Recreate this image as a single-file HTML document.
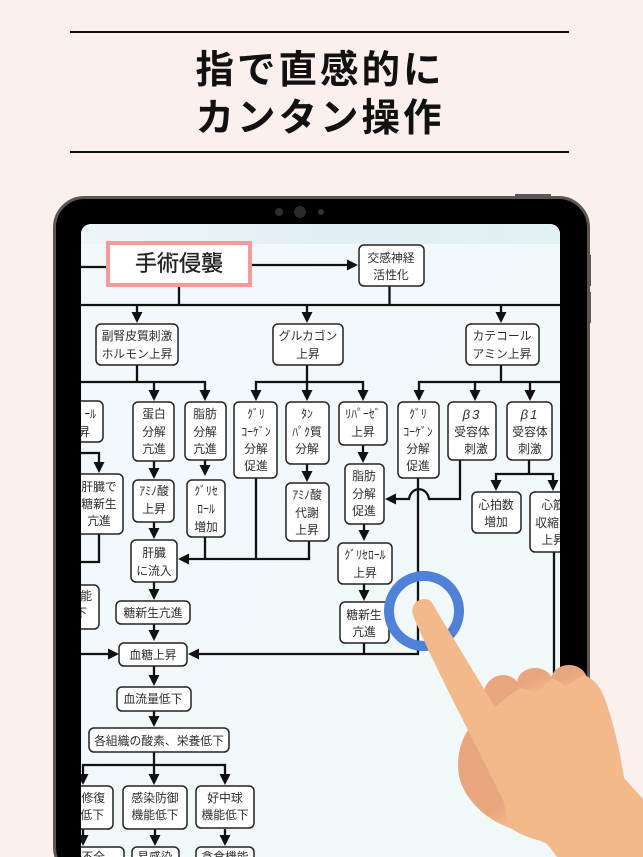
<!DOCTYPE html>
<html lang="ja"><head><meta charset="utf-8"><style>
html,body{margin:0;padding:0;background:#fcf0ef;width:643px;height:857px;overflow:hidden}
svg{display:block}
.t{font-family:"Liberation Sans","Noto Sans CJK JP",sans-serif;font-size:11.8px;fill:#2e2e2e;text-anchor:middle}
.e{text-anchor:end}
.b rect{fill:#fff;stroke:#222;stroke-width:1.5}
.l path{fill:none;stroke:#111;stroke-width:2.3}
.h{font-family:"Liberation Sans","Noto Sans CJK JP",sans-serif;font-size:38.5px;font-weight:700;fill:#111;text-anchor:middle;letter-spacing:3px}
</style></head><body>
<svg width="643" height="857" viewBox="0 0 643 857" xmlns="http://www.w3.org/2000/svg">
<defs>
<path id="d" d="M-5.5-11H5.5L0 0Z" fill="#111"/>
<path id="r" d="M-11-5.5V5.500L0 0Z" fill="#111"/>
<path id="w" d="M11-5.5V5.500L0 0Z" fill="#111"/>
<clipPath id="s"><rect x="81" y="224" width="479" height="640" rx="10"/></clipPath>
<linearGradient id="bg" x1="0" y1="0" x2="1" y2="1"><stop offset="0" stop-color="#f3f8fb"/><stop offset="1" stop-color="#f0f8fa"/></linearGradient>
<linearGradient id="top" x1="0" y1="0" x2="1" y2="0"><stop offset="0" stop-color="#eef5f8"/><stop offset=".5" stop-color="#e2eff6"/><stop offset="1" stop-color="#e3f1f2"/></linearGradient>
<linearGradient id="k" x1="0" y1="0" x2="0.6" y2="1"><stop offset=".45" stop-color="#e8a57e"/><stop offset="1" stop-color="#f3b98b"/></linearGradient>
<linearGradient id="th" gradientUnits="userSpaceOnUse" x1="478" y1="775" x2="515" y2="822"><stop offset=".6" stop-color="#e8a57e"/><stop offset="1" stop-color="#f3b98b"/></linearGradient>
</defs>

<rect x="70" y="31" width="499" height="2" fill="#111"/>
<rect x="70" y="151" width="499" height="2" fill="#111"/>
<text class="h" x="320" y="83">指で直感的に</text>
<text class="h" x="320" y="131">カンタン操作</text>

<rect x="515" y="194" width="36" height="4" fill="#5a5654"/>
<rect x="588" y="255" width="3" height="31" fill="#5a5654"/>
<rect x="588" y="292" width="3" height="31" fill="#5a5654"/>
<rect x="54.500" y="197.500" width="534" height="680" rx="30" fill="#000" stroke="#5a5654" stroke-width="3"/>
<circle cx="279" cy="212" r="4" fill="#2e2e2e"/>
<circle cx="300" cy="212" r="6" fill="#2a2a2a"/>
<circle cx="321" cy="212" r="3" fill="#333"/>

<g clip-path="url(#s)">
<rect x="81" y="224" width="479" height="640" fill="url(#bg)"/>
<rect x="81" y="224" width="479" height="20" fill="url(#top)"/>

<g class="l">
<path d="M81 267H106M252 265H350M179 287V305M389.500 286V305M81 305H560"/>
<path d="M137 305V314M307 305V314M501 305V314"/>
<path d="M137 365V382M81 382H205V392M154 382V392"/>
<path d="M256 392V382H363V392M307 365V392"/>
<path d="M501 365V382M419 392V382H560M475 382V392M530 382V392"/>
<path d="M81 453H99V464M99 534V562H81"/>
<path d="M154 461V470M205 460V467M307 464V472M154 522V530"/>
<path d="M205 537V559M256 478V559M309 541V559H186"/>
<path d="M154 582V592M154 624V632M154 666V677M154 711V719"/>
<path d="M81 654H108M199 654H418V478M364 643V654"/>
<path d="M363 445V455M364 524V532M364 584V592"/>
<path d="M396 499H409C411 486 427 486 429 499H460V460"/>
<path d="M529 460V474M496 482V474H553V482M554 552V700"/>
<path d="M154 752V776M83 776V765H225V776"/>
<path d="M83 829V836M155 829V836M225 829V836"/>
</g>
<use href="#r" x="358" y="265"/>
<use href="#d" x="137" y="323"/><use href="#d" x="307" y="323"/><use href="#d" x="501" y="323"/>
<use href="#d" x="154" y="401"/><use href="#d" x="205" y="401"/><use href="#d" x="256" y="401"/><use href="#d" x="307" y="401"/><use href="#d" x="363" y="401"/><use href="#d" x="419" y="401"/><use href="#d" x="475" y="401"/><use href="#d" x="530" y="401"/>
<use href="#d" x="99" y="473"/><use href="#d" x="154" y="479"/><use href="#d" x="205" y="476"/><use href="#d" x="307" y="482"/>
<use href="#d" x="154" y="539"/><use href="#d" x="154" y="600"/><use href="#d" x="154" y="641"/><use href="#d" x="154" y="686"/><use href="#d" x="154" y="727"/>
<use href="#w" x="178" y="559"/><use href="#r" x="119" y="654"/><use href="#w" x="188" y="654"/>
<use href="#d" x="363" y="463"/><use href="#d" x="364" y="541"/><use href="#d" x="364" y="601"/><use href="#w" x="385" y="499"/>
<use href="#d" x="496" y="491"/><use href="#d" x="553" y="491"/>
<use href="#d" x="83" y="785"/><use href="#d" x="154" y="785"/><use href="#d" x="225" y="785"/>
<use href="#d" x="83" y="846"/><use href="#d" x="155" y="846"/><use href="#d" x="225" y="846"/>

<rect x="108" y="243" width="142" height="42" fill="#fff" stroke="#f59a98" stroke-width="4"/>
<g class="b">
<rect x="359" y="245" width="65" height="41" rx="5"/>
<rect x="96" y="324" width="82" height="41" rx="5"/>
<rect x="273" y="324" width="70" height="41" rx="5"/>
<rect x="466" y="324" width="73" height="41" rx="5"/>
<rect x="60" y="401" width="43" height="41" rx="5"/>
<rect x="133" y="402" width="41" height="59" rx="5"/>
<rect x="185" y="402" width="41" height="58" rx="5"/>
<rect x="234" y="402" width="43" height="76" rx="5"/>
<rect x="286" y="402" width="43" height="62" rx="5"/>
<rect x="339" y="402" width="48" height="43" rx="5"/>
<rect x="398" y="402" width="41" height="76" rx="5"/>
<rect x="448" y="402" width="48" height="58" rx="5"/>
<rect x="507" y="402" width="45" height="58" rx="5"/>
<rect x="60" y="474" width="63" height="60" rx="5"/>
<rect x="133" y="480" width="41" height="42" rx="5"/>
<rect x="187" y="480" width="38" height="57" rx="5"/>
<rect x="286" y="483" width="43" height="58" rx="5"/>
<rect x="345" y="464" width="39" height="60" rx="5"/>
<rect x="472" y="492" width="49" height="41" rx="5"/>
<rect x="530" y="492" width="60" height="60" rx="5"/>
<rect x="60" y="585" width="39" height="44" rx="5"/>
<rect x="131" y="540" width="46" height="42" rx="5"/>
<rect x="338" y="543" width="54" height="41" rx="5"/>
<rect x="340" y="602" width="49" height="41" rx="5"/>
<rect x="116" y="601" width="74" height="23" rx="5"/>
<rect x="119" y="643" width="68" height="23" rx="5"/>
<rect x="117" y="687" width="74" height="24" rx="5"/>
<rect x="89" y="728" width="140" height="24" rx="5"/>
<rect x="60" y="786" width="53" height="43" rx="5"/>
<rect x="123" y="786" width="64" height="43" rx="5"/>
<rect x="196" y="786" width="58" height="42" rx="5"/>
<rect x="60" y="847" width="64" height="30" rx="5"/>
<rect x="132" y="847" width="47" height="30" rx="5"/>
<rect x="196" y="847" width="58" height="30" rx="5"/>
</g>

<g class="t">
<text class="t" x="179" y="271" style="font-size:22px;fill:#222;stroke:#222;stroke-width:.35">手術侵襲</text>
<text class="t" x="391" y="262">交感神経</text><text class="t" x="391" y="279">活性化</text>
<text class="t" x="137" y="340">副腎皮質刺激</text><text class="t" x="137" y="358">ホルモン上昇</text>
<text class="t" x="308" y="340">グルカゴン</text><text class="t" x="308" y="358">上昇</text>
<text class="t" x="502" y="340">カテコール</text><text class="t" x="502" y="358">アミン上昇</text>
<text class="t e" x="96" y="418">ｺﾙﾁｿﾞｰﾙ</text><text class="t e" x="90" y="436">上昇</text>
<text class="t" x="154" y="418">蛋白</text><text class="t" x="154" y="436">分解</text><text class="t" x="154" y="453">亢進</text>
<text class="t" x="205" y="418">脂肪</text><text class="t" x="205" y="436">分解</text><text class="t" x="205" y="453">亢進</text>
<text class="t" x="256" y="418">ｸﾞﾘ</text><text class="t" x="256" y="436">ｺｰｹﾞﾝ</text><text class="t" x="256" y="453">分解</text><text class="t" x="256" y="470">促進</text>
<text class="t" x="307" y="418">ﾀﾝ</text><text class="t" x="307" y="436">ﾊﾟｸ質</text><text class="t" x="307" y="453">分解</text>
<text class="t" x="363" y="418">ﾘﾊﾟｰｾﾞ</text><text class="t" x="363" y="436">上昇</text>
<text class="t" x="418" y="418">ｸﾞﾘ</text><text class="t" x="418" y="436">ｺｰｹﾞﾝ</text><text class="t" x="418" y="453">分解</text><text class="t" x="418" y="470">促進</text>
<text class="t" x="472" y="419" style="font-style:italic;font-size:13px;letter-spacing:2px">β3</text><text class="t" x="472" y="436">受容体</text><text class="t" x="476" y="453">刺激</text>
<text class="t" x="530" y="419" style="font-style:italic;font-size:13px;letter-spacing:2px">β1</text><text class="t" x="530" y="436">受容体</text><text class="t" x="530" y="453">刺激</text>
<text class="t" x="99" y="491">肝臓で</text><text class="t" x="99" y="508">糖新生</text><text class="t" x="99" y="525">亢進</text>
<text class="t" x="154" y="495">ｱﾐﾉ酸</text><text class="t" x="154" y="513">上昇</text>
<text class="t" x="206" y="495">ｸﾞﾘｾ</text><text class="t" x="206" y="513">ﾛｰﾙ</text><text class="t" x="206" y="531">増加</text>
<text class="t" x="307" y="499">ｱﾐﾉ酸</text><text class="t" x="307" y="517">代謝</text><text class="t" x="307" y="534">上昇</text>
<text class="t" x="364" y="480">脂肪</text><text class="t" x="364" y="498">分解</text><text class="t" x="364" y="515">促進</text>
<text class="t" x="496" y="509">心拍数</text><text class="t" x="496" y="526">増加</text>
<text class="t" x="553" y="509">心筋</text><text class="t" x="553" y="527">収縮力</text><text class="t" x="553" y="544">上昇</text>
<text class="t e" x="92" y="600">機能</text><text class="t e" x="87" y="617">低下</text>
<text class="t" x="154" y="557">肝臓</text><text class="t" x="154" y="575">に流入</text>
<text class="t" x="365" y="559">ｸﾞﾘｾﾛｰﾙ</text><text class="t" x="365" y="577">上昇</text>
<text class="t" x="364" y="619">糖新生</text><text class="t" x="364" y="636">亢進</text>
<text class="t" x="153" y="617">糖新生亢進</text>
<text class="t" x="153" y="659">血糖上昇</text>
<text class="t" x="153" y="703">血流量低下</text>
<text class="t" x="159" y="745">各組織の酸素、栄養低下</text>
<text class="t e" x="105" y="802">創傷修復</text><text class="t e" x="104" y="819">機能低下</text>
<text class="t" x="155" y="802">感染防御</text><text class="t" x="155" y="819">機能低下</text>
<text class="t" x="225" y="802">好中球</text><text class="t" x="225" y="819">機能低下</text>
<text class="t e" x="105" y="861">癒合不全</text>
<text class="t" x="155" y="861">易感染</text>
<text class="t" x="225" y="861">貪食機能</text>
</g>
</g>

<circle cx="424" cy="611" r="35" fill="none" stroke="#4f81d9" stroke-width="10"/>
<ellipse cx="503" cy="697" rx="20" ry="22" fill="#e8a57e"/>
<ellipse cx="535" cy="683" rx="18" ry="15" fill="url(#k)"/>
<ellipse cx="569" cy="680" rx="18" ry="15" fill="url(#k)"/>
<path d="M468 730C458 745 456 765 460 780C466 800 485 818 505 826L550 845L580 800L500 730Z" fill="url(#th)"/>
<path d="M412.500 614C411 602 420 599 425 599C431 599 433 604 435 608L495 707L519 688L537 692L553 678L566 686L584 675C592 678 598 684 602 692C612 715 620 750 624 778L643 799V857H557C552 850 548 845 544 841C535 840 525 837 510 828L503 800L468 730C450 695 425 645 412.500 614Z" fill="#f3b98b"/>
</svg>
</body></html>
